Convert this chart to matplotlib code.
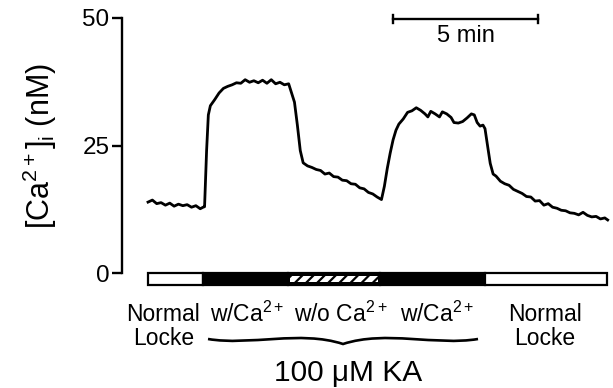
import numpy as np
import matplotlib
matplotlib.use('Agg')
import matplotlib.pyplot as plt
from matplotlib.patches import Rectangle, PathPatch
from matplotlib.path import Path

plt.rcParams['font.family'] = ['Liberation Sans', 'DejaVu Sans']
plt.rcParams['mathtext.fontset'] = 'custom'
plt.rcParams['mathtext.rm'] = 'Liberation Sans'
plt.rcParams['mathtext.it'] = 'Liberation Sans:italic'
plt.rcParams['hatch.linewidth'] = 1.6

# Trace of [Ca2+]i (nM) against time (min)
time_min = [0.0, 0.15, 0.3, 0.45, 0.6, 0.75, 0.9, 1.05, 1.2, 1.35, 1.5, 1.65, 1.8, 1.9,
            1.95, 2.02, 2.08, 2.15, 2.3, 2.45, 2.6, 2.75, 2.9, 3.05, 3.2, 3.35, 3.5, 3.65,
            3.8, 3.95, 4.1, 4.25, 4.4, 4.55, 4.7, 4.85, 4.95, 5.05, 5.15, 5.25, 5.35, 5.5,
            5.65, 5.8, 5.95, 6.1, 6.25, 6.4, 6.55, 6.7, 6.85, 7.0, 7.15, 7.3, 7.45, 7.6,
            7.75, 7.9, 8.05, 8.15, 8.25, 8.35, 8.45, 8.55, 8.65, 8.8, 8.95, 9.1, 9.25, 9.4,
            9.55, 9.65, 9.75, 9.9, 10.05, 10.15, 10.3, 10.45, 10.55, 10.7, 10.85, 11.0,
            11.15, 11.25, 11.35, 11.45, 11.55, 11.62, 11.72, 11.8, 11.9, 12.0, 12.15, 12.3,
            12.45, 12.6, 12.75, 12.9, 13.05, 13.2, 13.35, 13.5, 13.65, 13.8, 13.95, 14.1,
            14.25, 14.4, 14.55, 14.7, 14.85, 15.0, 15.15, 15.3, 15.45, 15.6, 15.75, 15.85]
ca_nM = [13.9, 14.3, 13.6, 13.8, 13.3, 13.7, 13.1, 13.5, 13.2, 13.4, 12.9, 13.2, 12.6, 12.9,
         13.0, 24.0, 31.0, 32.8, 34.0, 35.3, 36.2, 36.6, 36.9, 37.3, 37.2, 37.9, 37.4, 37.7,
         37.3, 37.8, 37.2, 37.9, 37.1, 37.4, 36.9, 37.1, 35.3, 33.5, 29.0, 24.0, 21.6, 21.0,
         20.7, 20.3, 20.1, 19.4, 19.6, 18.9, 18.8, 18.2, 18.1, 17.5, 17.4, 16.7, 16.5, 15.8,
         15.5, 14.9, 14.4, 17.0, 20.5, 23.5, 26.1, 28.0, 29.2, 30.2, 31.5, 31.8, 32.4, 31.9,
         31.2, 30.6, 31.7, 31.2, 30.6, 31.6, 31.2, 30.5, 29.5, 29.4, 29.7, 30.4,
         31.2, 31.0, 29.5, 28.8, 29.0, 28.3, 24.5, 21.5, 19.4, 19.0, 18.0, 17.5,
         17.2, 16.4, 16.0, 15.6, 15.0, 14.9, 14.1, 14.2, 13.3, 13.6, 12.9, 12.7,
         12.3, 12.2, 11.8, 11.7, 11.4, 11.9, 11.3, 11.0, 11.1, 10.6, 10.8, 10.4]

# Solution bar below the trace
bar_edges = [0.0, 1.9, 4.83, 8.0, 11.62, 15.83]
bar_styles = ['white', 'black', 'hatch', 'black', 'white']
bar_labels = ['w/Ca$^{2+}$', 'w/o Ca$^{2+}$', 'w/Ca$^{2+}$']
bar_label_x = [3.41, 6.66, 9.97]
locke_x = [0.53, 13.69]

yticks = [0, 25, 50]
scale_start, scale_len = 8.45, 5.0

fig = plt.figure(figsize=(6.13, 3.88), dpi=100)
ax = fig.add_axes([122 / 613, 115 / 388, 488 / 613, 255 / 388])
ax.plot(time_min, ca_nM, color='black', lw=2.0, solid_joinstyle='round')
ax.set_xlim(-0.897, 15.93)
ax.set_ylim(0, 50)
for s in ['top', 'right', 'bottom']:
    ax.spines[s].set_visible(False)
ax.spines['left'].set_linewidth(1.7)
ax.set_xticks([])
ax.set_yticks(yticks)
ax.tick_params(axis='y', length=7, width=1.7, labelsize=17.5, pad=2)

# bar
bh = 2.4
for i, st in enumerate(bar_styles):
    x0, x1 = bar_edges[i], bar_edges[i + 1]
    if st == 'white':
        r = Rectangle((x0, -bh), x1 - x0, bh, facecolor='white', edgecolor='black', lw=1.6, clip_on=False)
    elif st == 'black':
        r = Rectangle((x0, -bh), x1 - x0, bh, facecolor='black', edgecolor='black', lw=1.6, clip_on=False)
    else:
        ax.add_patch(Rectangle((x0, -bh), x1 - x0, bh, facecolor='black', edgecolor='black', lw=1.6, clip_on=False))
        r = Rectangle((x0 + 0.08, -bh + 0.55), x1 - x0 - 0.16, bh - 1.1, facecolor='white', edgecolor='black',
                      hatch='///', lw=0, clip_on=False)
    ax.add_patch(r)

for x in locke_x:
    ax.text(x, -9.5, 'Normal', ha='center', va='baseline', fontsize=16.5)
    ax.text(x, -14.2, 'Locke', ha='center', va='baseline', fontsize=16.5)
for x, lab in zip(bar_label_x, bar_labels):
    ax.text(x, -9.5, lab, ha='center', va='baseline', fontsize=16.5)

# brace under the KA labels
def px(x, y):
    return ((x - 148) / 29, (273 - y) / 5.1)
verts = [px(208, 339), px(250, 346), px(300, 330), px(343, 344),
         px(386, 330), px(436, 346), px(478, 339)]
codes = [Path.MOVETO, Path.CURVE4, Path.CURVE4, Path.CURVE4, Path.CURVE4, Path.CURVE4, Path.CURVE4]
ax.add_patch(PathPatch(Path(verts, codes), facecolor='none', edgecolor='black', lw=1.9, clip_on=False))
ax.text(6.9, -21.2, '100 μM KA', ha='center', va='baseline', fontsize=21.5)

# time scale bar
ax.plot([scale_start, scale_start + scale_len], [49.8, 49.8], color='black', lw=1.7, clip_on=False)
for x in [scale_start, scale_start + scale_len]:
    ax.plot([x, x], [49.0, 50.6], color='black', lw=1.7, clip_on=False)
ax.text(scale_start + scale_len / 2, 45.2, '5 min', ha='center', va='baseline', fontsize=17)

fig.text(40 / 613, 1 - 146 / 388, '[Ca$^{2+}$]$_\\mathrm{i}$ (nM)', rotation=90,
         ha='center', va='center', fontsize=22)

fig.savefig('out.png', dpi=100)
